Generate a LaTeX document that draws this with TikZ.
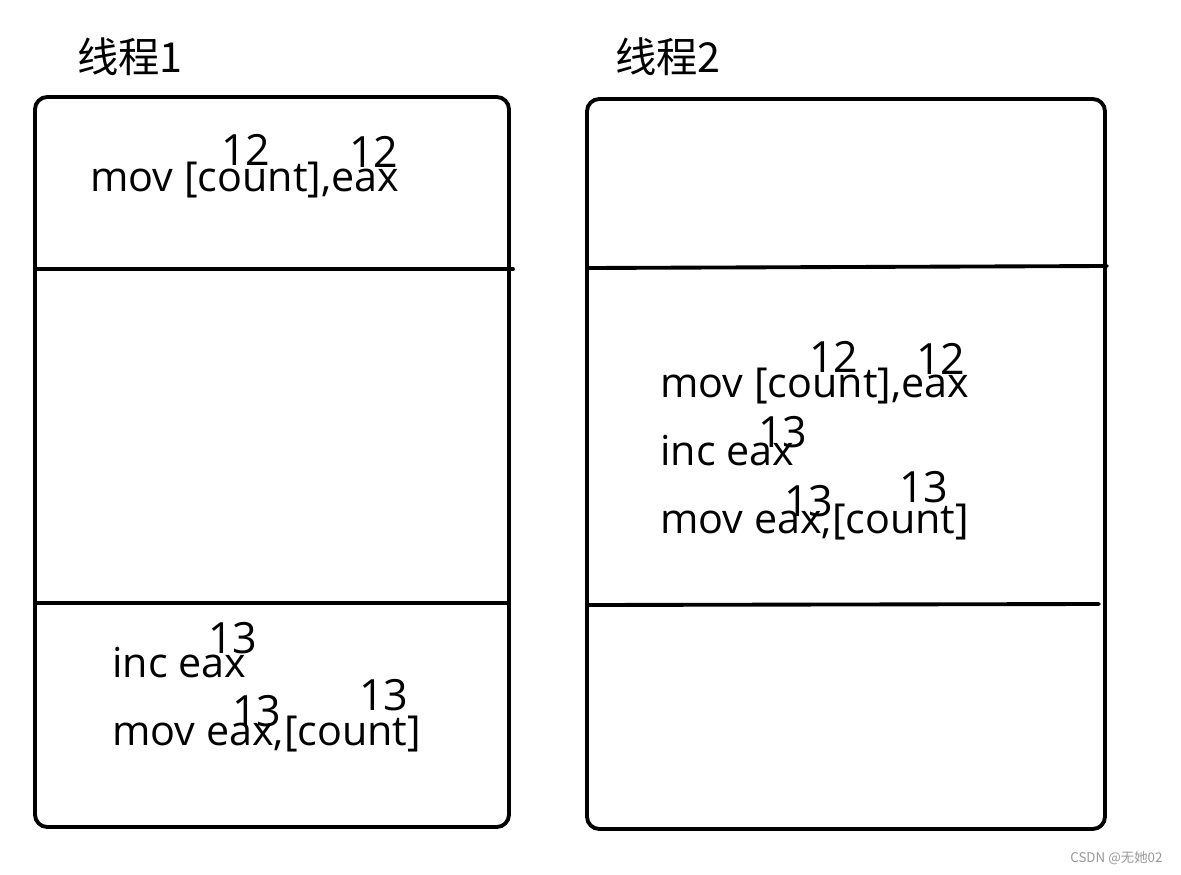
\documentclass[tikz,border=0pt]{standalone}
\usepackage{fontspec}
\setmainfont{Open Sans}
\newfontfamily\cjk{Noto Sans CJK SC}
\usetikzlibrary{positioning}

\tikzset{
  codeline/.style={anchor=base west, inner sep=0pt, font=\fontsize{23.5}{28}\selectfont},
  regval/.style={anchor=base west, inner sep=0pt, font=\fontsize{24.5}{28}\selectfont},
  threadtitle/.style={anchor=base west, inner sep=0pt, font=\cjk\fontsize{23.5}{27}\selectfont},
  frame/.style={line width=2.2pt, rounded corners=7pt},
  divider/.style={line width=2.2pt, line cap=round}
}

\begin{document}
\begin{tikzpicture}[x=0.02cm, y=-0.02cm]
  \useasboundingbox (0,0) rectangle (1181,875);

  % thread 1
  \node[threadtitle] (title1) at (77,73) {线程1};
  \draw[frame] (35,97) rectangle (509,827);
  \coordinate (d1a) at (37,269);  \coordinate (d1b) at (513,269);
  \coordinate (d2a) at (35,603);  \coordinate (d2b) at (507,603);
  \draw[divider] (d1a) -- (d1b);
  \draw[divider] (d2a) -- (d2b);

  \node[codeline] (t1l1) at (90,192) {mov [count],eax};
  \node[regval] at (221,166) {12};
  \node[regval] at (349,168) {12};

  \node[codeline] (t1l2) at (112,677) {inc eax};
  \node[regval] at (208,653) {13};
  \node[codeline] (t1l3) at (112,745) {mov eax,[count]};
  \node[regval] at (232,726) {13};
  \node[regval] at (359,710) {13};

  % thread 2
  \node[threadtitle] (title2) at (615,73) {线程2};
  \draw[frame] (587,99) rectangle (1105,829);
  \coordinate (d3a) at (589,268); \coordinate (d3b) at (1107,266);
  \coordinate (d4a) at (589,605); \coordinate (d4b) at (1099,604);
  \draw[divider] (d3a) -- (d3b);
  \draw[divider] (d4a) -- (d4b);

  \node[codeline] (t2l1) at (660,397) {mov [count],eax};
  \node[regval] at (809,372) {12};
  \node[regval] at (916,374) {12};
  \node[codeline] (t2l2) at (660,465) {inc eax};
  \node[regval] at (758,447) {13};
  \node[codeline] (t2l3) at (660,533) {mov eax,[count]};
  \node[regval] at (784,516) {13};
  \node[regval] at (899,502) {13};

  \node[anchor=base west, inner sep=0pt, text=gray!80, font=\cjk\fontsize{7.6}{8}\selectfont] (mark) at (1070,862) {CSDN @无她02};
\end{tikzpicture}
\end{document}
